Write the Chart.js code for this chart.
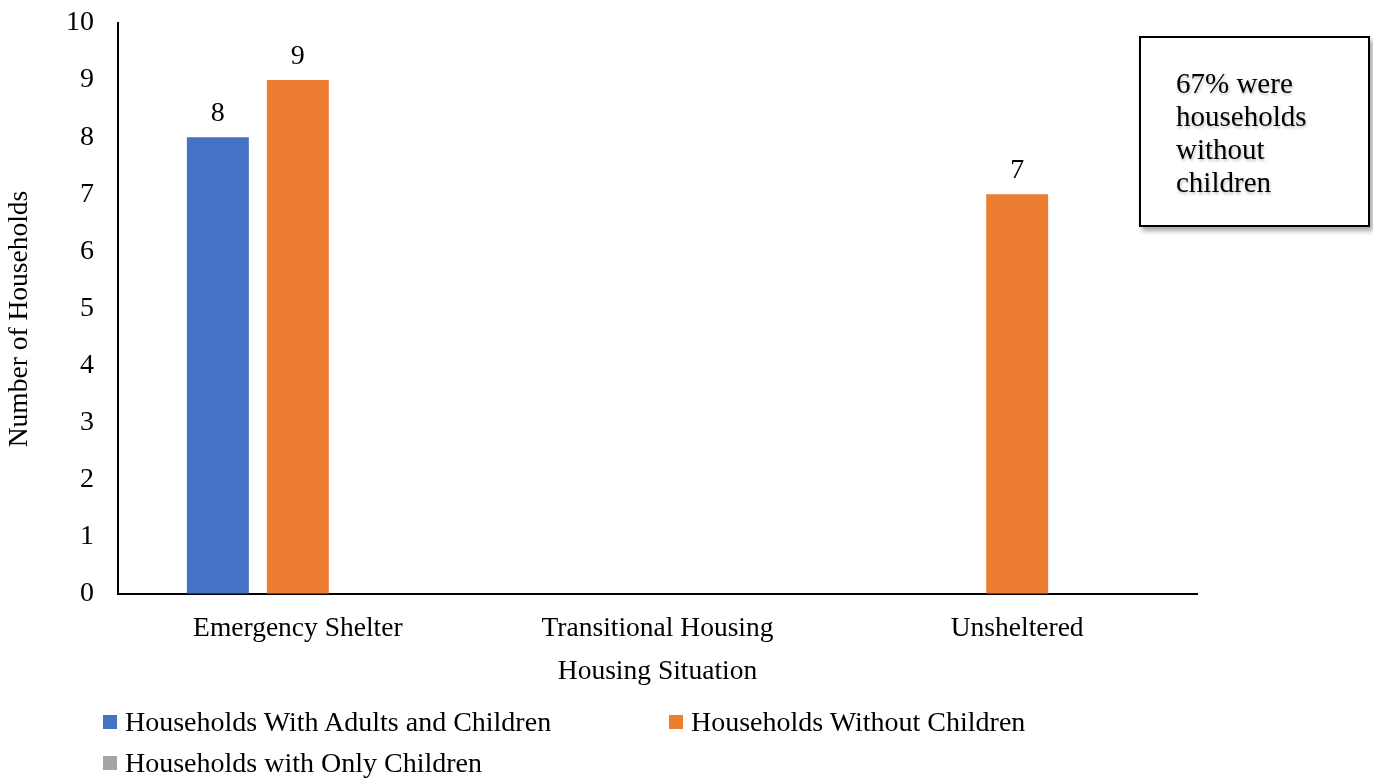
<!DOCTYPE html>
<html>
<head>
<meta charset="utf-8">
<script src="https://cdn.jsdelivr.net/npm/chart.js@4"></script>
<style>
  body { margin: 0; background: #fff; font-family: "Liberation Serif", "Times New Roman", serif; }
  #wrap { position: relative; width: 1373px; height: 778px; }
  #legend .item { position: absolute; font-size: 28px; line-height: 32px; color: #000; white-space: nowrap; }
  #legend .sw { position: absolute; width: 14px; height: 14px; }
  #note {
    position: absolute; left: 1139px; top: 36px; width: 227px; height: 187px;
    border: 2px solid #000; box-shadow: 3px 4px 5px rgba(0,0,0,0.35);
    font-size: 29px; line-height: 33px; box-sizing: content-box;
    text-shadow: 1px 2px 3px rgba(0,0,0,0.25);
  }
  #note div { position: absolute; left: 35px; top: 29px; white-space: nowrap; }
</style>
</head>
<body>
<div id="wrap">
  <canvas id="chart" width="1373" height="778"></canvas>
  <div id="legend"></div>
  <div id="note"><div>67% were<br>households<br>without<br>children</div></div>
</div>
<script>
const categories = ['Emergency Shelter', 'Transitional Housing', 'Unsheltered'];
const seriesNames = ['Households With Adults and Children', 'Households Without Children', 'Households with Only Children'];
const adultsAndChildren = [8, 0, 0];
const withoutChildren = [9, 0, 7];
const onlyChildren = [0, 0, 0];
const seriesColors = ['#4472C4', '#ED7D31', '#A5A5A5'];
const yTicks = [0, 1, 2, 3, 4, 5, 6, 7, 8, 9, 10];
const yTitle = 'Number of Households';

const serif = '"Liberation Serif", "Times New Roman", serif';

// value labels above non-zero bars, plus the y axis title
const valueLabels = {
  id: 'valueLabels',
  afterDatasetsDraw(chart) {
    const ctx = chart.ctx;
    ctx.save();
    ctx.font = '28px ' + serif;
    ctx.fillStyle = '#000';
    ctx.textAlign = 'center';
    ctx.textBaseline = 'alphabetic';
    chart.data.datasets.forEach((ds, i) => {
      chart.getDatasetMeta(i).data.forEach((bar, j) => {
        if (ds.data[j] > 0) ctx.fillText(ds.data[j], bar.x, bar.y - 16);
      });
    });
    // y title sits a bit below the middle of the axis in the original
    ctx.font = '27.5px ' + serif;
    ctx.textBaseline = 'middle';
    ctx.translate(20, 319);
    ctx.rotate(-Math.PI / 2);
    ctx.fillText(yTitle, 0, 0);
    ctx.restore();
  }
};

const datasets = [adultsAndChildren, withoutChildren, onlyChildren].map((d, i) => ({
  label: seriesNames[i],
  data: d,
  backgroundColor: seriesColors[i],
  borderWidth: 0,
  categoryPercentage: 0.667,
  barPercentage: 0.775
}));

new Chart(document.getElementById('chart'), {
  type: 'bar',
  data: { labels: categories, datasets: datasets },
  options: {
    responsive: false,
    animation: false,
    events: [],
    layout: { padding: { left: 0, top: 23, right: 176, bottom: 90 } },
    plugins: { legend: { display: false }, tooltip: { enabled: false } },
    scales: {
      x: {
        grid: { drawOnChartArea: false, drawTicks: false },
        border: { display: true, color: '#000', width: 2 },
        ticks: { color: '#000', font: { family: serif, size: 27.5 }, padding: 18, maxRotation: 0 },
        title: { display: true, text: 'Housing Situation', color: '#000', font: { family: serif, size: 27.5 }, padding: { top: 6, bottom: 0 } },
        afterFit: (s) => { s.height = 94; }
      },
      y: {
        min: 0,
        max: 10,
        afterBuildTicks: (s) => { s.ticks = yTicks.map(v => ({ value: v })); },
        grid: { drawOnChartArea: false, drawTicks: false },
        border: { display: true, color: '#000', width: 2 },
        ticks: { color: '#000', font: { family: serif, size: 28 }, padding: 24 },
        afterFit: (s) => {
          s.width = 118;
          // keep the label padding from pushing the plot top down
          s.paddingTop = 0;
          s.paddingBottom = 0;
        }
      }
    }
  },
  plugins: [valueLabels]
});

// legend laid out like the original: two columns, left aligned
const legendPos = [[103, 706], [669, 706], [103, 747]];
const legend = document.getElementById('legend');
seriesNames.forEach((name, i) => {
  const [x, y] = legendPos[i];
  const sw = document.createElement('div');
  sw.className = 'sw';
  sw.style.left = x + 'px';
  sw.style.top = (y + 9) + 'px';
  sw.style.background = seriesColors[i];
  legend.appendChild(sw);
  const item = document.createElement('div');
  item.className = 'item';
  item.style.left = (x + 22) + 'px';
  item.style.top = y + 'px';
  item.textContent = name;
  legend.appendChild(item);
});
</script>
</body>
</html>
